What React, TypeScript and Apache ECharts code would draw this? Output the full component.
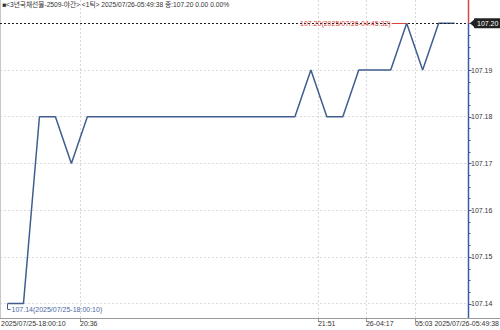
import React, { useEffect, useRef } from "react";
import * as echarts from "echarts";

const titleText = "■<3년국채선물-2509-야간> <1틱> 2025/07/26-05:49:38 종:107.20 0.00 0.00%";
const prices = [
  107.14, 107.14, 107.18, 107.18, 107.17, 107.18, 107.18, 107.18, 107.18, 107.18,
  107.18, 107.18, 107.18, 107.18, 107.18, 107.18, 107.18, 107.18, 107.18, 107.19,
  107.18, 107.18, 107.19, 107.19, 107.19, 107.2, 107.19, 107.2, 107.2,
];
const yTickValues = [107.14, 107.15, 107.16, 107.17, 107.18, 107.19];
const xTickPositions = [4.54, 19.44, 22.45, 25.52];
const xTickLabels = ["20:36", "21:51", "26-04:17", "05:03"];
const startLabel = "2025/07/25-18:00:10";
const endLabel = "2025/07/26-05:49:38";
const lastPrice = 107.2;
const highIndex = 25;
const highPrice = 107.2;
const highLabel = "107.20(2025/07/26-04:45:32)";
const lowIndex = 0;
const lowPrice = 107.14;
const lowLabel = "107.14(2025/07/25-18:00:10)";

const X_MIN = -0.47;
const X_MAX = 28.84;
const Y_MIN = 107.1369;
const Y_MAX = 107.205;

const FONT = "Liberation Sans, Noto Sans CJK KR, sans-serif";
const LINE_COLOR = "#3f5d8e";
const AXIS_BLUE = "#3a5ba6";
const RED = "#d9463e";

export default function App() {
  const ref = useRef<HTMLDivElement>(null);
  useEffect(() => {
    if (!ref.current) return;
    const chart = echarts.init(ref.current, undefined, { renderer: "svg" });
    const option: any = {
      animation: false,
      grid: { left: 0, right: 32, top: 0, bottom: 12, outerBoundsMode: "none", containLabel: false },
      textStyle: { fontFamily: FONT },
      xAxis: {
        type: "value",
        min: X_MIN,
        max: X_MAX,
        axisLine: { show: true, onZero: false, lineStyle: { color: "#9a9a9a", width: 1 } },
        axisTick: {
          show: true,
          customValues: xTickPositions,
          length: 4,
          lineStyle: { color: "#9a9a9a" },
        },
        axisLabel: {
          customValues: xTickPositions,
          formatter: (v: number) => {
            const i = xTickPositions.findIndex((p) => Math.abs(p - v) < 1e-6);
            return i >= 0 ? xTickLabels[i] : "";
          },
          align: "left",
          margin: 2,
          fontSize: 7,
          color: "#333",
          fontFamily: FONT,
        },
        splitLine: { show: true, lineStyle: { color: "#d8d8d8", type: [2, 2] } },
      },
      yAxis: {
        type: "value",
        position: "right",
        min: Y_MIN,
        max: Y_MAX,
        axisLine: { show: false, onZero: false },
        axisTick: { show: false, customValues: yTickValues },
        axisLabel: {
          customValues: yTickValues,
          formatter: (v: number) => v.toFixed(2),
          margin: 3,
          fontSize: 7,
          color: "#333",
          fontFamily: FONT,
        },
        splitLine: { show: true, lineStyle: { color: "#dcdcdc", type: [2, 2] } },
      },
      series: [
        {
          type: "line",
          data: prices.map((v, i) => [i, v]),
          symbol: "none",
          lineStyle: { color: LINE_COLOR, width: 1.5 },
          markLine: {
            silent: true,
            symbol: "none",
            animation: false,
            label: { show: false },
            data: [
              {
                yAxis: lastPrice,
                lineStyle: { color: "#222", type: [2, 2], width: 1 },
                label: {
                  show: true,
                  position: "end",
                  distance: 6,
                  formatter: lastPrice.toFixed(2),
                  color: "#fff",
                  backgroundColor: "#222",
                  padding: [2, 3, 1, 3],
                  borderRadius: 1,
                  fontSize: 7,
                  fontFamily: FONT,
                },
              },
              [
                {
                  coord: [highIndex, highPrice],
                  lineStyle: { color: RED, width: 1, type: "solid" },
                  label: {
                    show: true,
                    position: "end",
                    distance: 1,
                    formatter: highLabel,
                    color: RED,
                    fontSize: 7,
                    fontFamily: FONT,
                  },
                },
                { coord: [24.06, highPrice] },
              ],
              [
                { coord: [lowIndex, lowPrice], lineStyle: { color: LINE_COLOR, width: 1, type: "solid" } },
                { coord: [lowIndex, 107.1388] },
              ],
              [
                {
                  coord: [lowIndex, 107.1388],
                  lineStyle: { color: LINE_COLOR, width: 1, type: "solid" },
                  label: {
                    show: true,
                    position: "end",
                    distance: 1,
                    formatter: lowLabel,
                    color: "#4a6aa2",
                    fontSize: 7,
                    fontFamily: FONT,
                  },
                },
                { coord: [0.19, 107.1388] },
              ],
            ],
          },
        },
      ],
    };
    chart.setOption(option);

    const pLast = chart.convertToPixel({ gridIndex: 0 }, [X_MAX, lastPrice]) as number[];
    const pTop = chart.convertToPixel({ gridIndex: 0 }, [X_MAX, Y_MAX]) as number[];
    const pBot = chart.convertToPixel({ gridIndex: 0 }, [X_MAX, Y_MIN]) as number[];
    const pLeftBot = chart.convertToPixel({ gridIndex: 0 }, [X_MIN, Y_MIN]) as number[];
    const ax = Math.round(pLast[0]) + 0.5;
    const ticks: any[] = [];
    const step = 0.0025;
    for (let k = 0; k * step + 107.14 <= 107.2 + 1e-9; k++) {
      const v = 107.14 + k * step;
      const py = (chart.convertToPixel({ gridIndex: 0 }, [X_MAX, v]) as number[])[1];
      const major = k % 4 === 0;
      ticks.push({
        type: "line",
        shape: { x1: ax, y1: Math.round(py) + 0.5, x2: ax + (major ? 3 : 2), y2: Math.round(py) + 0.5 },
        style: { stroke: AXIS_BLUE, lineWidth: 1 },
      });
    }
    chart.setOption({
      graphic: [
        {
          type: "text",
          left: 2,
          top: 1,
          style: { text: titleText, fontSize: 6.7, fill: "#333", fontFamily: FONT },
        },
        {
          type: "text",
          left: 1,
          top: 320,
          style: { text: startLabel, fontSize: 7, fill: "#333", fontFamily: FONT },
        },
        {
          type: "text",
          right: 1,
          top: 320,
          style: { text: endLabel, fontSize: 7, fill: "#333", fontFamily: FONT },
        },
        {
          type: "line",
          shape: { x1: 0.5, y1: pTop[1], x2: 0.5, y2: pLeftBot[1] },
          style: { stroke: "#c8c8c8", lineWidth: 1 },
        },
        {
          type: "line",
          shape: { x1: ax, y1: pBot[1] + 0.5, x2: 500, y2: pBot[1] + 0.5 },
          style: { stroke: "#9a9a9a", lineWidth: 1 },
        },
        {
          type: "line",
          shape: { x1: ax, y1: pLast[1], x2: ax, y2: pBot[1] },
          style: { stroke: AXIS_BLUE, lineWidth: 1.5 },
        },
        {
          type: "line",
          shape: { x1: ax, y1: pTop[1], x2: ax, y2: pLast[1] },
          style: { stroke: RED, lineWidth: 1.5 },
        },
        ...ticks,
        {
          type: "polygon",
          shape: {
            points: [
              [ax + 1.5, pLast[1]],
              [ax + 6.5, pLast[1] - 4.5],
              [ax + 6.5, pLast[1] + 4.5],
            ],
          },
          style: { fill: "#222" },
          z: 10,
        },
      ],
    });
    return () => chart.dispose();
  }, []);
  return (
    <div
      ref={ref}
      style={{ position: "fixed", left: 0, top: 0, width: 500, height: 330, background: "#fff" }}
    />
  );
}
